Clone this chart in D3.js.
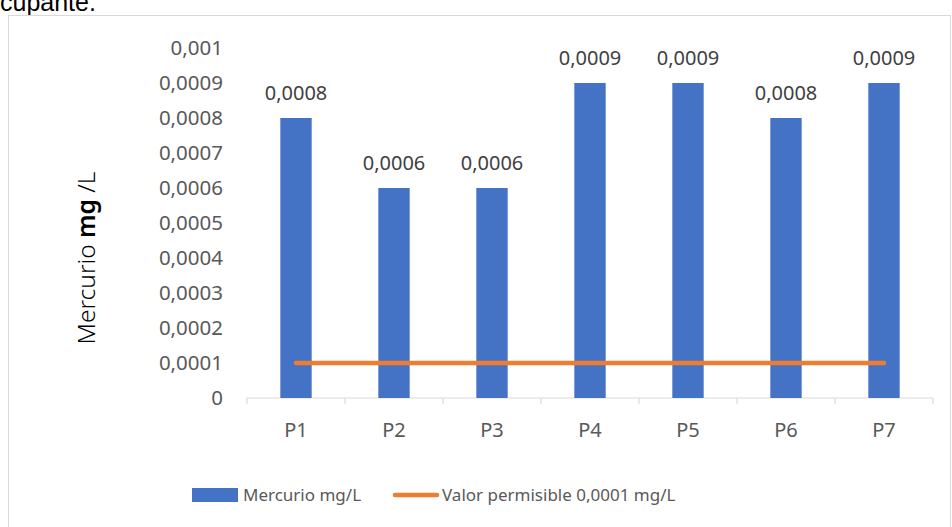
<!DOCTYPE html>
<html>
<head>
<meta charset="utf-8">
<script src="https://cdn.jsdelivr.net/npm/d3@7"></script>
<style>
  html, body { margin: 0; padding: 0; background: #fff; }
  svg { display: block; }
</style>
</head>
<body>
<svg id="chart" width="952" height="527"></svg>
<script>
// Mercury concentration per sampling point, against the permissible limit
const categories = ["P1", "P2", "P3", "P4", "P5", "P6", "P7"];
const mercurio = [0.0008, 0.0006, 0.0006, 0.0009, 0.0009, 0.0008, 0.0009];
const valorPermisible = [0.0001, 0.0001, 0.0001, 0.0001, 0.0001, 0.0001, 0.0001];
const yTicks = [0, 0.0001, 0.0002, 0.0003, 0.0004, 0.0005, 0.0006, 0.0007, 0.0008, 0.0009, 0.001];
const serieNames = ["Mercurio mg/L", "Valor permisible 0,0001 mg/L"];

const BLUE = "#4472C4", ORANGE = "#ED7D31";
const FONT = "'Noto Sans', 'Open Sans', sans-serif";

const svg = d3.select("#chart");

// trailing line of the surrounding text
svg.append("text")
  .attr("x", 0).attr("y", 11)
  .attr("font-family", "'Liberation Sans', Arial, sans-serif")
  .attr("font-size", 25)
  .attr("fill", "#000")
  .text("cupante.");

// chart frame
svg.append("rect")
  .attr("x", 8.5).attr("y", 15.5)
  .attr("width", 942).attr("height", 520)
  .attr("fill", "#fff")
  .attr("stroke", "#d9d9d9").attr("stroke-width", 1);

const plot = { left: 247, right: 933, top: 48, bottom: 398 };

const x = d3.scaleBand().domain(categories).range([plot.left, plot.right]).paddingInner(0.68).paddingOuter(0.34);
const xc = d3.scaleBand().domain(categories).range([plot.left, plot.right]);
const y = d3.scaleLinear().domain([0, 0.001]).range([plot.bottom, plot.top]);

const fmt = v => (v === 0 ? "0" : String(+v.toFixed(4)).replace(".", ","));

// y axis labels (no line)
const yAxis = svg.append("g")
  .attr("transform", `translate(${plot.left - 10},0)`)
  .call(d3.axisLeft(y).tickValues(yTicks).tickFormat(fmt).tickSize(0).tickPadding(14));
yAxis.select(".domain").remove();
yAxis.selectAll("text")
  .attr("font-family", FONT).attr("font-size", 20.5).attr("fill", "#595959");

// x axis with category boundary ticks
const xAxisG = svg.append("g").attr("transform", `translate(0,${plot.bottom})`);
xAxisG.append("line")
  .attr("x1", plot.left).attr("x2", plot.right)
  .attr("stroke", "#d9d9d9").attr("stroke-width", 1.2);
xAxisG.selectAll("line.tick")
  .data(categories.concat(["end"]))
  .join("line")
  .attr("class", "tick")
  .attr("x1", (d, i) => i < categories.length ? xc(d) : plot.right)
  .attr("x2", (d, i) => i < categories.length ? xc(d) : plot.right)
  .attr("y1", 0).attr("y2", 6)
  .attr("stroke", "#d9d9d9").attr("stroke-width", 1.2);
xAxisG.selectAll("text")
  .data(categories)
  .join("text")
  .attr("x", d => xc(d) + xc.bandwidth() / 2)
  .attr("y", 39)
  .attr("text-anchor", "middle")
  .attr("font-family", FONT).attr("font-size", 20).attr("fill", "#595959")
  .text(d => d);

// bars
svg.append("g").selectAll("rect")
  .data(categories)
  .join("rect")
  .attr("x", d => x(d))
  .attr("y", (d, i) => y(mercurio[i]))
  .attr("width", x.bandwidth())
  .attr("height", (d, i) => y(0) - y(mercurio[i]))
  .attr("fill", BLUE);

// data labels
svg.append("g").selectAll("text")
  .data(categories)
  .join("text")
  .attr("x", d => x(d) + x.bandwidth() / 2)
  .attr("y", (d, i) => y(mercurio[i]) - 18)
  .attr("text-anchor", "middle")
  .attr("font-family", FONT).attr("font-size", 20).attr("fill", "#404040")
  .text((d, i) => fmt(mercurio[i]));

// permissible limit line
const line = d3.line()
  .x((d, i) => xc(categories[i]) + xc.bandwidth() / 2)
  .y(d => y(d));
svg.append("path")
  .datum(valorPermisible)
  .attr("d", line)
  .attr("fill", "none")
  .attr("stroke", ORANGE).attr("stroke-width", 4.5)
  .attr("stroke-linecap", "round");

// y axis title
const title = svg.append("text")
  .attr("transform", "translate(95,258) rotate(-90)")
  .attr("text-anchor", "middle")
  .attr("font-family", FONT).attr("font-size", 24.5).attr("fill", "#000");
title.append("tspan").attr("font-weight", 300).text("Mercurio ");
title.append("tspan").attr("font-weight", 600).text("mg");
title.append("tspan").attr("font-weight", 300).text(" /L");

// legend
const legend = svg.append("g").attr("transform", "translate(0,495)");
legend.append("rect")
  .attr("x", 192).attr("y", -7).attr("width", 46).attr("height", 14)
  .attr("fill", BLUE);
legend.append("text")
  .attr("x", 243).attr("y", 0).attr("dy", "0.35em")
  .attr("font-family", FONT).attr("font-size", 17).attr("fill", "#595959")
  .text(serieNames[0]);
legend.append("line")
  .attr("x1", 395).attr("x2", 437).attr("y1", 0).attr("y2", 0)
  .attr("stroke", ORANGE).attr("stroke-width", 4.5).attr("stroke-linecap", "round");
legend.append("text")
  .attr("x", 442).attr("y", 0).attr("dy", "0.35em")
  .attr("font-family", FONT).attr("font-size", 17).attr("fill", "#595959")
  .text(serieNames[1]);
</script>
</body>
</html>
